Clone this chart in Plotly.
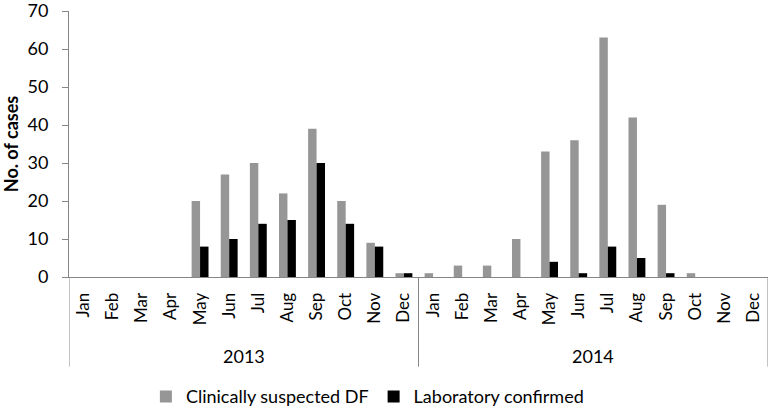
import plotly.graph_objects as go

months = ["Jan", "Feb", "Mar", "Apr", "May", "Jun", "Jul", "Aug", "Sep", "Oct", "Nov", "Dec"]
years = ["2013", "2014"]
suspected = [0, 0, 0, 0, 20, 27, 30, 22, 39, 20, 9, 1,
             1, 3, 3, 10, 33, 36, 63, 42, 19, 1, 0, 0]
confirmed = [0, 0, 0, 0, 8, 10, 14, 15, 30, 14, 8, 1,
             0, 0, 0, 0, 4, 1, 8, 5, 1, 0, 0, 0]

x_idx = list(range(len(suspected)))
tick_text = months * len(years)

FONT = "Lato, 'Open Sans', sans-serif"
AXIS = "#868686"

fig = go.Figure()
fig.add_trace(go.Bar(x=x_idx, y=suspected, name="Clinically suspected DF",
                     marker=dict(color="#969696", line=dict(width=0))))
fig.add_trace(go.Bar(x=x_idx, y=confirmed, name="Laboratory confirmed",
                     marker=dict(color="#000000", line=dict(width=0))))

n = len(suspected)
# year divider lines of the two-level category axis
for b in [-0.5, 11.5, n - 0.5]:
    fig.add_shape(type="line", xref="x", yref="paper", x0=b, x1=b, y0=0, y1=-0.337,
                  line=dict(color=AXIS, width=1))
for i, yr in enumerate(years):
    fig.add_annotation(x=i * 12 + 5.5, y=-0.297, xref="x", yref="paper", text=yr,
                       showarrow=False, yanchor="middle",
                       font=dict(family=FONT, size=18, color="#000000"))

fig.update_layout(
    width=771, height=418,
    margin=dict(l=69, r=3, t=11, b=134),
    paper_bgcolor="white", plot_bgcolor="white",
    barmode="group", bargap=0.42, bargroupgap=0.0,
    font=dict(family=FONT, size=17, color="#000000"),
    showlegend=True,
    legend=dict(orientation="h", x=0.11, xanchor="left", y=-0.45, yanchor="middle",
                font=dict(family=FONT, size=18), traceorder="normal",
                itemwidth=30),
    xaxis=dict(range=[-0.5, n - 0.5], tickmode="array", tickvals=x_idx, ticktext=tick_text,
               tickangle=-90, showline=True, linecolor=AXIS, linewidth=1,
               showgrid=False, zeroline=False, ticks="", fixedrange=True, automargin=False,
               ticklabeloverflow="allow", ticklabelstandoff=8,
               tickfont=dict(family=FONT, size=17)),
    yaxis=dict(range=[0, 70], dtick=10, showline=True, linecolor=AXIS, linewidth=1,
               ticks="outside", ticklen=6, tickcolor=AXIS, showgrid=False, zeroline=False,
               automargin=False, ticklabeloverflow="allow", ticklabelstandoff=10,
               tickfont=dict(family=FONT, size=18),
               title=dict(text="<b>No. of cases</b>", font=dict(family=FONT, size=18), standoff=6)),
)

fig.write_html("out.html", post_script="document.body.style.margin='0';",
               config={"displayModeBar": False})
